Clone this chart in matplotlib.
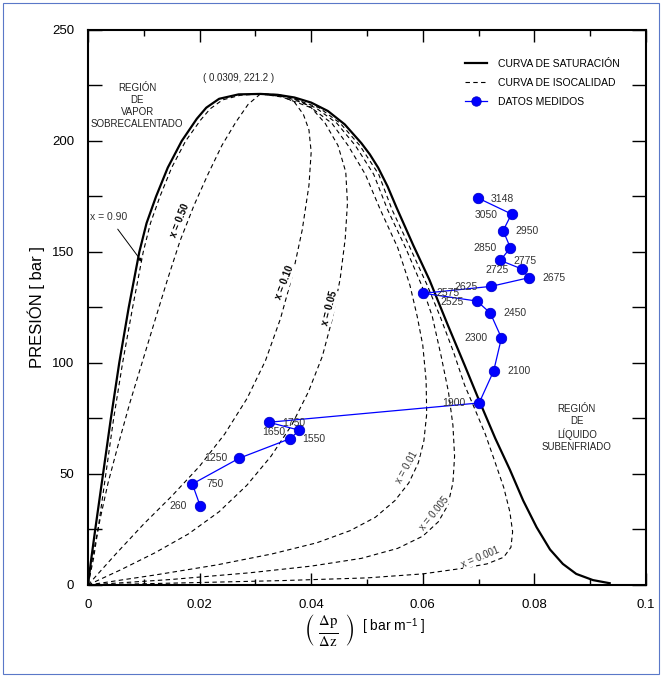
import matplotlib
matplotlib.use("Agg")
import matplotlib.pyplot as plt
from matplotlib.patches import Rectangle

plt.rcParams["font.family"] = ["Liberation Sans", "DejaVu Sans"]
plt.rcParams["mathtext.fontset"] = "stix"

# saturation curve (x = dp/dz [bar/m], p [bar])
sat_x = [0, 0.0006, 0.0013, 0.0027, 0.0041, 0.0056, 0.0073, 0.0092, 0.0105, 0.0122, 0.0143,
         0.0168, 0.0195, 0.0212, 0.0235, 0.0270, 0.0309, 0.0340, 0.0370, 0.0400, 0.0430,
         0.0460, 0.0490, 0.0505, 0.0520, 0.0537, 0.0553, 0.0568, 0.0583, 0.0612, 0.0645,
         0.0675, 0.0702, 0.0730, 0.0756, 0.0780, 0.0804, 0.0828, 0.0851, 0.0875, 0.0905,
         0.0935]
sat_p = [0, 12, 25, 50, 75, 100, 125, 150, 163, 175, 188, 200, 210, 215, 219, 221, 221.2,
         220.8, 219.6, 217.3, 213.5, 207.5, 199, 194, 188, 179.5, 170, 161.5, 153, 137.4,
         117, 99, 82.5, 66, 52, 38, 26, 16, 9.5, 5, 2.2, 0.8]

# isoquality curves
x90_x = [0, 0.0010, 0.0018, 0.0032, 0.0046, 0.0062, 0.0080, 0.0099, 0.0112, 0.0129, 0.0150,
         0.0175, 0.0202, 0.0219, 0.0241, 0.0273, 0.0309]
x90_p = [0, 12, 25, 50, 75, 100, 125, 150, 163, 175, 188, 200, 209.5, 214.5, 218.5, 220.6, 221.2]

x50_x = [0, 0.0010, 0.0022, 0.0036, 0.0054, 0.0075, 0.0098, 0.0121, 0.0143, 0.0165, 0.0190,
         0.0215, 0.0240, 0.0265, 0.0287, 0.0309]
x50_p = [0, 15, 30, 46, 63, 82, 101, 120, 138, 155, 171, 185, 198, 208.5, 216.5, 221.2]

x10_x = [0, 0.0050, 0.0100, 0.0150, 0.0200, 0.0245, 0.0285, 0.0318, 0.0345, 0.0367, 0.0384,
         0.0396, 0.0400, 0.0396, 0.0386, 0.0370, 0.0345, 0.0309]
x10_p = [0, 14, 27.5, 40, 53.5, 68, 84, 101, 120, 140, 160, 180, 195, 205, 212, 217.5, 220.6, 221.2]

x05_x = [0, 0.0060, 0.0120, 0.0180, 0.0235, 0.0285, 0.0328, 0.0365, 0.0395, 0.0420, 0.0438,
         0.0452, 0.0461, 0.0465, 0.0462, 0.0448, 0.0425, 0.0400, 0.0372, 0.0340, 0.0309]
x05_p = [0, 7, 14.5, 23, 33, 45, 58, 72, 87, 103, 120, 138, 156, 172, 186, 198, 208, 215,
         219.2, 220.9, 221.2]

x01_x = [0, 0.0120, 0.0230, 0.0330, 0.0410, 0.0470, 0.0515, 0.0550, 0.0575, 0.0592, 0.0602,
         0.0607, 0.0606, 0.0600, 0.0590, 0.0577, 0.0555, 0.0524, 0.0497, 0.0466, 0.0437,
         0.0400, 0.0348, 0.0309]
x01_p = [0, 4.5, 9, 14, 19, 24.5, 30.5, 38, 46, 55, 65, 77, 92, 108, 121, 135, 152, 169,
         185, 198, 208, 215, 219.8, 221.2]

x005_x = [0, 0.0150, 0.0290, 0.0400, 0.0490, 0.0555, 0.0600, 0.0628, 0.0645, 0.0654, 0.0657,
          0.0654, 0.0646, 0.0633, 0.0617, 0.0598, 0.0569, 0.0537, 0.0512, 0.0479, 0.0446,
          0.0408, 0.0355, 0.0309]
x005_p = [0, 2.5, 5.5, 8.5, 12, 16.5, 22, 28.5, 36, 46, 58, 72, 87, 103, 121, 135, 152, 169,
          185, 198, 208, 215, 219.8, 221.2]

x001_x = [0, 0.0180, 0.0350, 0.0500, 0.0600, 0.0671, 0.0715, 0.0745, 0.0758, 0.0761, 0.0756,
          0.0745, 0.0730, 0.0712, 0.0692, 0.0675, 0.0655, 0.0631, 0.0608, 0.0577, 0.0545,
          0.0521, 0.0487, 0.0452, 0.0414, 0.0360, 0.0309]
x001_p = [0, 1, 2, 3.2, 5, 7.5, 9.5, 12.5, 17, 24, 33, 44, 55, 68, 80, 90, 105, 121, 135,
          152, 169, 185, 198, 208, 215, 219.8, 221.2]

# measured data, in the order they are joined
data_lbl = ["260", "750", "1250", "1550", "1750", "1650", "1900", "2100", "2300", "2450",
            "2525", "2575", "2625", "2675", "2775", "2725", "2850", "2950", "3050", "3148"]
data_x = [0.0201, 0.0187, 0.0271, 0.0362, 0.0379, 0.0324, 0.0701, 0.0727, 0.0741, 0.0721,
          0.0697, 0.0601, 0.0722, 0.0790, 0.0778, 0.0739, 0.0757, 0.0744, 0.0759, 0.0699]
data_p = [35.7, 45.5, 57.1, 65.9, 69.7, 73.3, 82.0, 96.4, 111.3, 122.5,
          127.9, 131.4, 134.5, 138.4, 142.3, 146.2, 151.9, 159.6, 167.1, 174.3]
# label offsets in pixels (right, up)
lbl_off = [(-22, 0), (23, 0), (-23, 0), (24, 0), (-6, 7), (5, -10), (-25, 0), (25, 0),
           (-25, 0), (25, 0), (-25, -1), (25, 0), (-25, -1), (25, 0), (3, 8), (-3, -10),
           (-25, 0), (24, 0), (-25, -1), (24, -1)]

fig = plt.figure(figsize=(6.62, 6.77), dpi=100)
fig.patches.append(Rectangle((0.004, 0.004), 0.992, 0.992, transform=fig.transFigure,
                             fill=False, edgecolor="#5a78c8", lw=0.8))
ax = fig.add_axes([0.1329, 0.1359, 0.8429, 0.8198])

dash = dict(color="black", lw=0.8, ls=(0, (4, 3)))
for cx, cp in [(x90_x, x90_p), (x50_x, x50_p), (x10_x, x10_p), (x05_x, x05_p),
               (x01_x, x01_p), (x005_x, x005_p), (x001_x, x001_p)]:
    ax.plot(cx, cp, **dash)
ax.plot(sat_x, sat_p, color="black", lw=1.6)

# legend proxies
ax.plot([], [], color="black", lw=1.6, label="CURVA DE SATURACIÓN")
ax.plot([], [], label="CURVA DE ISOCALIDAD", **dash)
ax.plot(data_x, data_p, color="#0000ff", lw=0.9, marker="o", ms=7.5,
        markeredgecolor="#0000cc", markeredgewidth=0.6, label="DATOS MEDIDOS", zorder=5)

for lb, x, p, (dx, dy) in zip(data_lbl, data_x, data_p, lbl_off):
    ax.annotate(lb, (x, p), xytext=(dx * 0.72, dy * 0.72), textcoords="offset points",
                ha="center", va="center", fontsize=7.5, color="#333333", zorder=6)

bold = dict(fontsize=7, fontweight="bold", ha="center", va="center",
            bbox=dict(facecolor="white", edgecolor="none", pad=0.5))
ax.text(0.0165, 164.4, "x = 0.50", rotation=68, **bold)
ax.text(0.0353, 136.5, "x = 0.10", rotation=69, **bold)
ax.text(0.0433, 124.8, "x = 0.05", rotation=75, **bold)
thin = dict(fontsize=7, color="#333333", ha="center", va="center",
            bbox=dict(facecolor="white", edgecolor="none", pad=0.5))
ax.text(0.0571, 53.2, "x = 0.01", rotation=61, **thin)
ax.text(0.0620, 32.4, "x = 0.005", rotation=51, **thin)
ax.text(0.0704, 12.6, "x = 0.001", rotation=23, **thin)

ax.annotate("x = 0.90", xy=(0.0097, 145.5), xytext=(0.0037, 165.8), fontsize=7.5,
            color="#333333", ha="center", va="center",
            arrowprops=dict(arrowstyle="-|>", lw=0.7, color="black", mutation_scale=5,
                            shrinkA=4, shrinkB=0))

ax.text(0.0088, 215.8, "REGIÓN\nDE\nVAPOR\nSOBRECALENTADO", fontsize=7, ha="center",
        va="center", linespacing=1.25, color="#222222")
ax.text(0.0876, 70.7, "REGIÓN\nDE\nLÍQUIDO\nSUBENFRIADO", fontsize=7, ha="center",
        va="center", linespacing=1.25, color="#222222")
ax.text(0.0269, 228.4, "( 0.0309, 221.2 )", fontsize=7, ha="center", va="center",
        color="#222222")

ax.set_xlim(0, 0.1)
ax.set_ylim(0, 250)
ax.set_xticks([0, 0.02, 0.04, 0.06, 0.08, 0.1])
ax.set_xticks([0.01, 0.03, 0.05, 0.07, 0.09], minor=True)
ax.set_xticklabels(["0", "0.02", "0.04", "0.06", "0.08", "0.1"])
ax.set_yticks([0, 50, 100, 150, 200, 250])
ax.set_yticks([25, 75, 125, 175, 225], minor=True)
ax.tick_params(which="both", direction="in", top=True, right=True, labelsize=9.5,
               width=1.0, pad=10)
ax.tick_params(axis="x", which="major", length=8.5)
ax.tick_params(axis="x", which="minor", length=4.5)
ax.tick_params(axis="y", which="both", length=10)
for s in ax.spines.values():
    s.set_linewidth(1.5)

ax.set_ylabel("PRESIÓN [ bar ]", fontsize=12, labelpad=5)
fig.text(0.497, 0.069, r"$\left(\ \frac{\Delta \mathrm{p}}{\Delta \mathrm{z}}\ \right)$",
         fontsize=15, ha="center", va="center")
fig.text(0.547, 0.075, r"[ bar m$^{\mathregular{-1}}$ ]", fontsize=10, ha="left", va="center")

ax.legend(loc="upper left", bbox_to_anchor=(0.667, 0.957), frameon=False, fontsize=7.5,
          handlelength=2.1, handletextpad=1.0, labelspacing=0.85, borderpad=0,
          numpoints=1, markerscale=0.9)

fig.savefig("out.png", dpi=100)
